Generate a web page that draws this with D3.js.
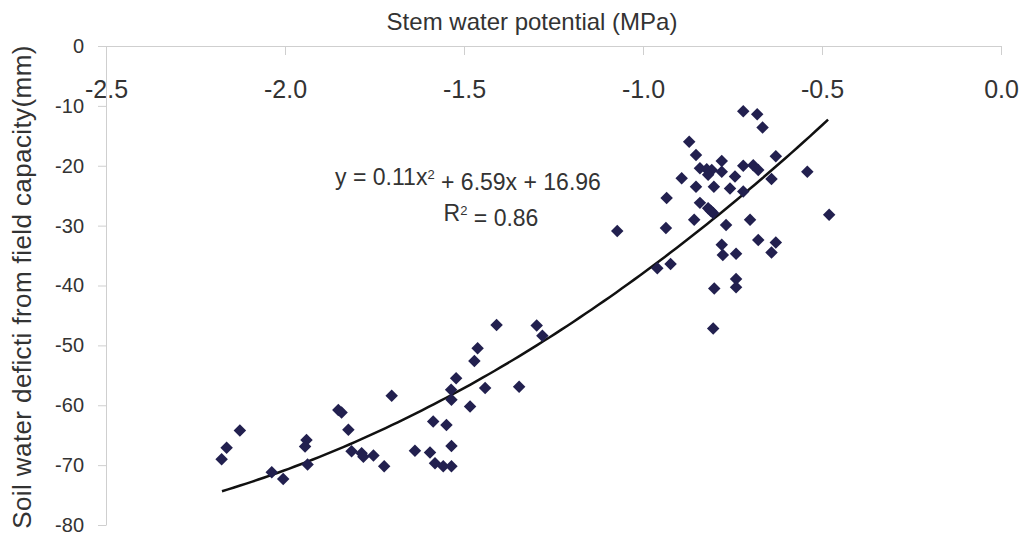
<!DOCTYPE html>
<html>
<head>
<meta charset="utf-8">
<script src="https://cdn.jsdelivr.net/npm/d3@7"></script>
<style>
  html, body { margin: 0; padding: 0; background: #fff; }
  svg { display: block; font-family: "Liberation Sans", Arial, sans-serif; }
</style>
</head>
<body>
<svg id="chart" width="1031" height="541"></svg>
<script>
// Stem water potential (MPa) for each observation
const stemPotential = [
  -1.072, -1.409, -1.297, -1.281, -1.462, -1.471, -1.522, -1.536, -1.441, -1.346,
  -1.702, -1.535, -1.483, -1.851, -1.842, -1.823, -1.586, -1.549, -1.535, -1.637,
  -1.595, -1.581, -1.558, -1.535, -1.814, -1.786, -1.781, -1.753, -1.723, -1.940,
  -1.944, -1.937, -2.037, -2.005, -2.126, -2.163, -2.177,
  -0.720, -0.681, -0.666, -0.871, -0.852, -0.780, -0.629, -0.720, -0.692,
  -0.841, -0.822, -0.808, -0.818, -0.780, -0.678, -0.892, -0.743, -0.641, -0.541,
  -0.852, -0.802, -0.757, -0.720, -0.934, -0.841, -0.818, -0.811, -0.804, -0.857,
  -0.701, -0.768, -0.936, -0.480, -0.678, -0.629, -0.641, -0.780, -0.777, -0.740,
  -0.960, -0.923, -0.740, -0.740, -0.801, -0.804
];
// Soil water deficit from field capacity (mm), same order
const soilDeficit = [
  -30.9, -46.6, -46.7, -48.4, -50.5, -52.6, -55.5, -57.4, -57.1, -56.9,
  -58.4, -59.1, -60.2, -60.8, -61.2, -64.1, -62.7, -63.3, -66.8, -67.6,
  -67.9, -69.7, -70.2, -70.2, -67.7, -68.0, -68.6, -68.4, -70.2, -65.8,
  -66.9, -69.9, -71.2, -72.3, -64.2, -67.1, -69.0,
  -10.9, -11.4, -13.6, -16.0, -18.2, -19.2, -18.4, -20.0, -19.9,
  -20.4, -20.6, -20.7, -21.5, -21.0, -20.7, -22.1, -21.8, -22.2, -21.0,
  -23.5, -23.5, -23.8, -24.3, -25.4, -26.2, -27.1, -27.5, -27.9, -29.0,
  -29.0, -29.9, -30.4, -28.2, -32.4, -32.8, -34.5, -33.2, -34.9, -34.7,
  -37.1, -36.4, -38.9, -40.3, -40.5, -47.2
];

// Quadratic trend as reported (x expressed in bar, 1 MPa = 10 bar)
const trendCoef = { a: 0.11, b: 6.59, c: 16.96 };
const barPerMPa = 10;
const trendRange = [-2.176, -0.483];
const rSquared = 0.86;

const xTicks = [-2.5, -2.0, -1.5, -1.0, -0.5, 0.0];
const yTicks = [0, -10, -20, -30, -40, -50, -60, -70, -80];

const svg = d3.select("#chart");
const textColor = "#333333";
const axisColor = "#cfcfcf";
const fontStack = '"Liberation Sans", Arial, sans-serif';

const x = d3.scaleLinear().domain([-2.5, 0]).range([106, 1001]);
const y = d3.scaleLinear().domain([-80, 0]).range([525, 46]);

// x axis along the top (y = 0), labels beneath the line
const xAxis = svg.append("g")
  .attr("transform", `translate(0,${y(0)})`)
  .call(d3.axisBottom(x).tickValues(xTicks).tickSize(9).tickSizeOuter(0)
    .tickFormat(d => d.toFixed(1)));
xAxis.select(".domain").attr("stroke", axisColor);
xAxis.selectAll(".tick line").attr("stroke", axisColor);
xAxis.selectAll(".tick text")
  .attr("y", 34).attr("dy", "0.71em")
  .attr("fill", textColor).attr("font-size", 25)
  .style("font-family", fontStack);

// y axis
const yAxis = svg.append("g")
  .attr("transform", `translate(${x(-2.5)},0)`)
  .call(d3.axisLeft(y).tickValues(yTicks).tickSize(8).tickSizeOuter(0).tickPadding(14)
    .tickFormat(d => String(d)));
yAxis.select(".domain").attr("stroke", axisColor);
yAxis.selectAll(".tick line").attr("stroke", axisColor);
yAxis.selectAll(".tick text")
  .attr("fill", textColor).attr("font-size", 20)
  .style("font-family", fontStack);

// axis titles
svg.append("text")
  .attr("x", 532).attr("y", 22).attr("dy", "0.35em")
  .attr("text-anchor", "middle").attr("fill", textColor).attr("font-size", 24)
  .text("Stem water potential (MPa)");

svg.append("text")
  .attr("transform", "translate(22,287) rotate(-90)")
  .attr("dy", "0.35em")
  .attr("text-anchor", "middle").attr("fill", textColor).attr("font-size", 26)
  .attr("letter-spacing", 0.4)
  .text("Soil water deficti from field capacity(mm)");

// trend curve
const trend = v => {
  const b = v * barPerMPa;
  return trendCoef.a * b * b + trendCoef.b * b + trendCoef.c;
};
const trendPts = d3.range(0, 101).map(i => {
  const v = trendRange[0] + (trendRange[1] - trendRange[0]) * i / 100;
  return [v, trend(v)];
});
svg.append("path")
  .datum(trendPts)
  .attr("fill", "none").attr("stroke", "#111").attr("stroke-width", 2.5)
  .attr("d", d3.line().x(d => x(d[0])).y(d => y(d[1])));

// observations as diamonds
const points = stemPotential.map((v, i) => ({ x: v, y: soilDeficit[i] }));
const diamond = d3.symbol().type(d3.symbolSquare).size(78);
svg.append("g").selectAll("path")
  .data(points)
  .join("path")
  .attr("d", diamond)
  .attr("transform", d => `translate(${x(d.x)},${y(d.y)}) rotate(45)`)
  .attr("fill", "#22204f");

// equation and R² labels
const eq = svg.append("text")
  .attr("x", 468).attr("y", 177).attr("dy", "0.35em")
  .attr("text-anchor", "middle").attr("fill", textColor).attr("font-size", 23);
eq.append("tspan").text(`y = ${trendCoef.a.toFixed(2)}x`);
eq.append("tspan").attr("dy", "-0.5em").attr("font-size", 13).text("2");
eq.append("tspan").attr("dy", "0.5em")
  .text(` + ${trendCoef.b.toFixed(2)}x + ${trendCoef.c.toFixed(2)}`);

const r2 = svg.append("text")
  .attr("x", 491).attr("y", 213).attr("dy", "0.35em")
  .attr("text-anchor", "middle").attr("fill", textColor).attr("font-size", 23);
r2.append("tspan").text("R");
r2.append("tspan").attr("dy", "-0.5em").attr("font-size", 13).text("2");
r2.append("tspan").attr("dy", "0.5em").text(` = ${rSquared.toFixed(2)}`);
</script>
</body>
</html>
